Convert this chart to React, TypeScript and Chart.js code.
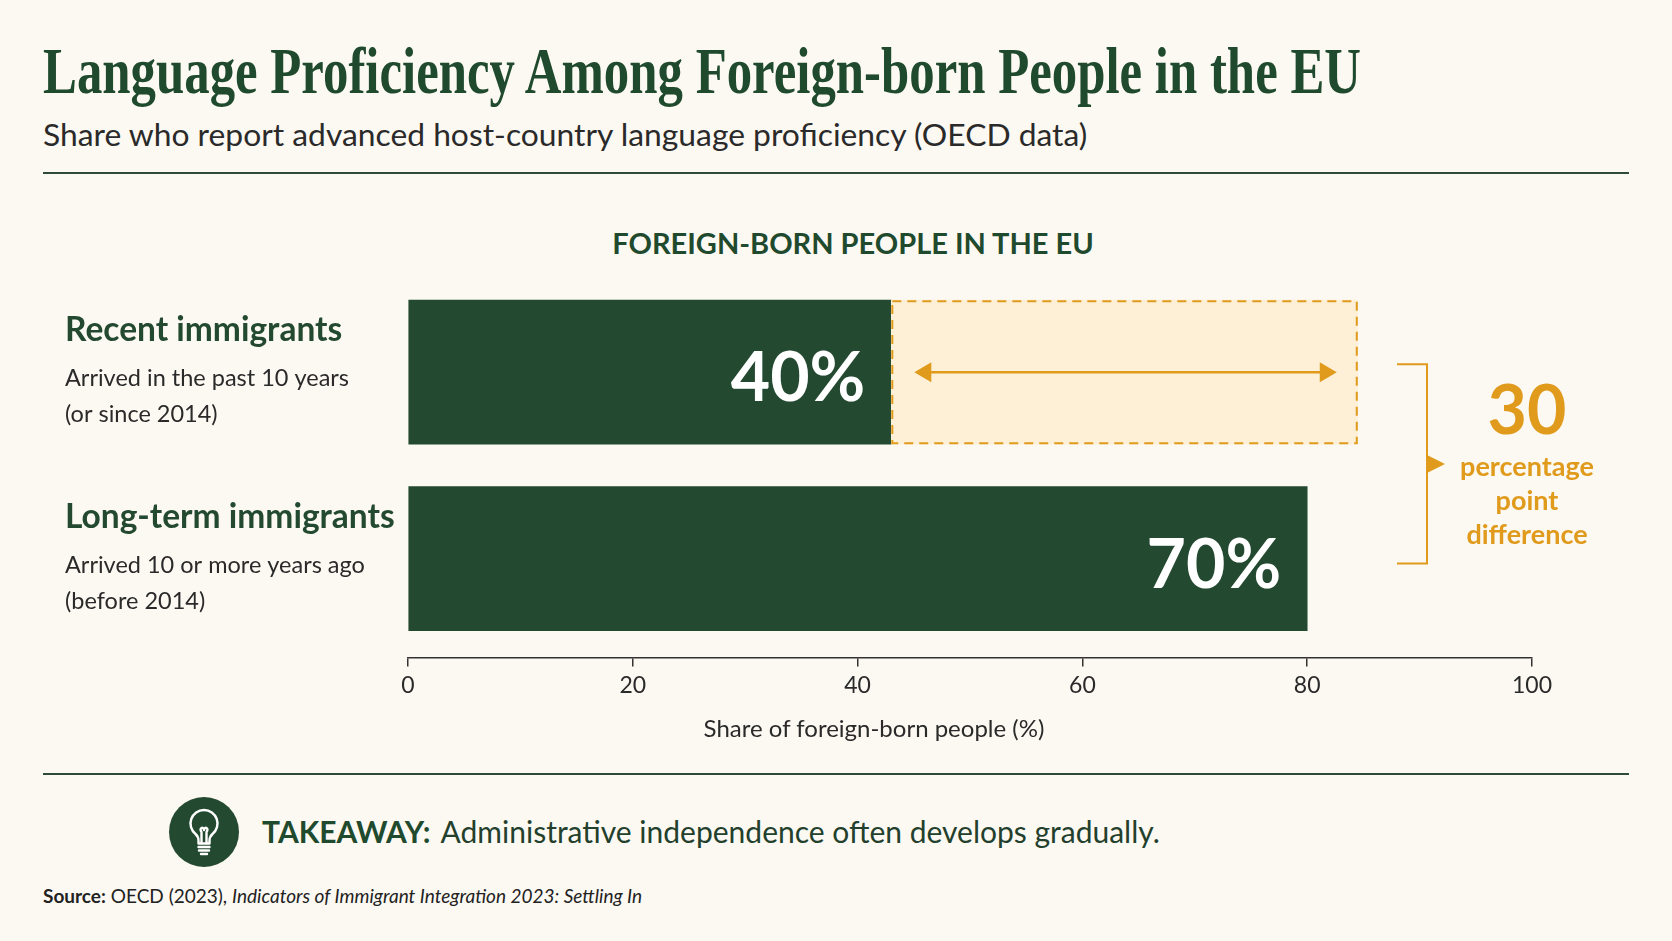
import { useEffect, useRef } from "react";
import { Chart, registerables, type ChartConfiguration, type Plugin } from "chart.js";

Chart.register(...registerables);

// rows, top to bottom
const categories = ["Recent immigrants", "Long-term immigrants"];
const categoryNotes = [
  ["Arrived in the past 10 years", "(or since 2014)"],
  ["Arrived 10 or more years ago", "(before 2014)"],
];
// share printed on each bar (%)
const reportedShares = [40, 70];
// where each bar ends against the 0–100 axis in the picture
const barEnds = [43, 80];
// dashed "gap" band on the first row (axis units)
const gapBand = [43, 84.5];
const xTicks = [0, 20, 40, 60, 80, 100];
const gapLabelLines = ["percentage", "point", "difference"];

const GREEN = "#234a30";
const ORANGE = "#e09a1c";
const GAP_FILL = "#fdf0d6";
const BG = "#fcf9f2";
const TEXT = "#2a2a2a";
const SANS = "Lato, 'Open Sans', sans-serif";

const rowLabels: Plugin<"bar"> = {
  id: "rowLabels",
  afterDraw(chart) {
    const { ctx } = chart;
    const y = chart.scales.y;
    ctx.save();
    ctx.textAlign = "left";
    ctx.textBaseline = "alphabetic";
    categories.forEach((name, i) => {
      const cy = y.getPixelForValue(i);
      ctx.fillStyle = GREEN;
      ctx.font = `700 33.5px ${SANS}`;
      ctx.fillText(name, 65, cy - 31);
      ctx.fillStyle = TEXT;
      ctx.font = `400 23.5px ${SANS}`;
      ctx.fillText(categoryNotes[i][0], 65, cy + 14);
      ctx.fillText(categoryNotes[i][1], 65, cy + 50);
    });
    ctx.restore();
  },
};

const barAnnotations: Plugin<"bar"> = {
  id: "barAnnotations",
  afterDatasetsDraw(chart) {
    const { ctx, chartArea } = chart;
    const gapEl = chart.getDatasetMeta(0).data[0] as any;
    const bars = chart.getDatasetMeta(1).data as any[];

    ctx.save();

    // dashed outline of the gap band
    const g = gapEl.getProps(["x", "y", "base", "height"], true);
    const gTop = g.y - g.height / 2;
    ctx.strokeStyle = ORANGE;
    ctx.lineWidth = 2;
    ctx.setLineDash([9, 6]);
    ctx.strokeRect(g.base + 1, gTop + 1, g.x - g.base - 2, g.height - 2);
    ctx.setLineDash([]);

    // double arrow inside the band
    const ax0 = g.base + 23;
    const ax1 = g.x - 21;
    ctx.lineWidth = 2.5;
    ctx.beginPath();
    ctx.moveTo(ax0 + 10, g.y);
    ctx.lineTo(ax1 - 10, g.y);
    ctx.stroke();
    ctx.fillStyle = ORANGE;
    ctx.beginPath();
    ctx.moveTo(ax0, g.y);
    ctx.lineTo(ax0 + 17, g.y - 10);
    ctx.lineTo(ax0 + 17, g.y + 10);
    ctx.closePath();
    ctx.fill();
    ctx.beginPath();
    ctx.moveTo(ax1, g.y);
    ctx.lineTo(ax1 - 17, g.y - 10);
    ctx.lineTo(ax1 - 17, g.y + 10);
    ctx.closePath();
    ctx.fill();

    // value labels inside the bars
    ctx.fillStyle = "#ffffff";
    ctx.font = `700 68px ${SANS}`;
    ctx.textAlign = "right";
    ctx.textBaseline = "alphabetic";
    bars.forEach((el, i) => {
      const p = el.getProps(["x", "y"], true);
      ctx.fillText(`${reportedShares[i]}%`, p.x - 26, p.y + 29);
    });

    // bracket joining the two rows
    const top = bars[0].getProps(["y"], true).y - 8;
    const bottom = bars[1].getProps(["y"], true).y + 5;
    const bx = chartArea.right - 105;
    const mid = (top + bottom) / 2;
    ctx.strokeStyle = ORANGE;
    ctx.fillStyle = ORANGE;
    ctx.lineWidth = 2;
    ctx.beginPath();
    ctx.moveTo(bx - 30, top);
    ctx.lineTo(bx, top);
    ctx.lineTo(bx, bottom);
    ctx.lineTo(bx - 30, bottom);
    ctx.stroke();
    ctx.beginPath();
    ctx.moveTo(bx, mid - 9);
    ctx.lineTo(bx + 18, mid);
    ctx.lineTo(bx, mid + 9);
    ctx.closePath();
    ctx.fill();

    // difference callout
    const tx = chartArea.right - 5;
    ctx.textAlign = "center";
    ctx.font = `700 68px ${SANS}`;
    ctx.fillText(String(reportedShares[1] - reportedShares[0]), tx, mid - 30);
    ctx.font = `700 27px ${SANS}`;
    gapLabelLines.forEach((line, i) => {
      ctx.fillText(line, tx, mid + 12 + i * 34);
    });

    ctx.restore();
  },
};

function BarChart() {
  const canvasRef = useRef<HTMLCanvasElement>(null);
  const chartRef = useRef<Chart<"bar"> | null>(null);

  useEffect(() => {
    const canvas = canvasRef.current;
    if (!canvas) {
      return;
    }
    if (chartRef.current) {
      chartRef.current.destroy();
    }

    const config: ChartConfiguration<"bar", any[], string> = {
      type: "bar",
      data: {
        datasets: [
          {
            label: "Gap",
            data: [{ x: gapBand, y: 0 }],
            backgroundColor: GAP_FILL,
            borderWidth: 0,
            barThickness: 144,
            grouped: false,
          },
          {
            label: "Share",
            data: barEnds.map((v, i) => ({ x: v, y: i })),
            backgroundColor: GREEN,
            borderWidth: 0,
            barThickness: 144,
            grouped: false,
          },
        ],
      },
      options: {
        indexAxis: "y",
        animation: false,
        responsive: true,
        maintainAspectRatio: false,
        layout: {
          padding: { left: 408, right: 140, top: 19, bottom: 56 },
        },
        plugins: {
          legend: { display: false },
          tooltip: { enabled: false },
        },
        scales: {
          x: {
            type: "linear",
            min: xTicks[0],
            max: xTicks[xTicks.length - 1],
            afterBuildTicks: (scale) => {
              scale.ticks = xTicks.map((value) => ({ value }));
            },
            grid: {
              drawOnChartArea: false,
              drawTicks: true,
              tickLength: 9,
              color: "#333333",
              lineWidth: 1.5,
            },
            border: { display: true, color: "#333333", width: 1.5 },
            ticks: {
              color: TEXT,
              padding: 5,
              font: { family: SANS, size: 23 },
            },
          },
          y: {
            type: "linear",
            min: -0.5,
            max: 1.53,
            reverse: true,
            offset: false,
            display: false,
          },
        },
      },
      plugins: [rowLabels, barAnnotations],
    };

    chartRef.current = new Chart(canvas, config);

    return () => {
      chartRef.current?.destroy();
      chartRef.current = null;
    };
  }, []);

  return (
    <div style={{ position: "absolute", left: 0, top: 260, width: 1672, height: 500 }}>
      <canvas ref={canvasRef} />
    </div>
  );
}

function Bulb() {
  return (
    <svg width="70" height="70" viewBox="0 0 70 70" style={{ position: "absolute", left: 169, top: 797 }}>
      <circle cx="35" cy="35" r="35" fill={GREEN} />
      <g fill="none" stroke="#ffffff" strokeWidth="2.4" strokeLinecap="round" strokeLinejoin="round">
        <path d="M35 13 a13.5 13.5 0 0 1 8.5 24 c-2 1.8 -3 3.8 -3 6.5 v3 h-11 v-3 c0 -2.7 -1 -4.7 -3 -6.5 a13.5 13.5 0 0 1 8.5 -24 z" />
        <path d="M32.5 46 v-11 M37.5 46 v-11 M32.5 35 c-3 -4 2 -6 2.5 -2 c0.5 -4 5.5 -2 2.5 2" />
        <path d="M29.5 50 h11 M30 53.5 h10 M32 57 h6" />
      </g>
    </svg>
  );
}

export default function App() {
  useEffect(() => {
    document.body.style.margin = "0";
    document.body.style.background = BG;
  }, []);

  const rule = (top: number) => (
    <div style={{ position: "absolute", left: 43, top, width: 1586, height: 2, background: "#2e4a3a" }} />
  );

  return (
    <div style={{ position: "relative", width: 1672, height: 941, background: BG, overflow: "hidden", fontFamily: SANS }}>
      <div
        style={{
          position: "absolute",
          left: 43,
          top: 38,
          fontFamily: "'Liberation Serif', 'DejaVu Serif', serif",
          fontWeight: 700,
          fontSize: 66,
          lineHeight: "66px",
          color: "#1f4a2e",
          whiteSpace: "nowrap",
          transform: "scaleX(0.77)",
          transformOrigin: "left top",
        }}
      >
        Language Proficiency Among Foreign-born People in the EU
      </div>
      <div style={{ position: "absolute", left: 43, top: 118, fontSize: 31.8, lineHeight: "32px", color: TEXT, whiteSpace: "nowrap" }}>
        Share who report advanced host-country language proficiency (OECD data)
      </div>
      {rule(172)}
      <div
        style={{
          position: "absolute",
          left: 553,
          width: 600,
          top: 228,
          textAlign: "center",
          fontSize: 29,
          lineHeight: "29px",
          fontWeight: 700,
          color: "#1f4a2e",
          whiteSpace: "nowrap",
        }}
      >
        FOREIGN-BORN PEOPLE IN THE EU
      </div>
      <BarChart />
      <div
        style={{
          position: "absolute",
          left: 574,
          width: 600,
          top: 716,
          textAlign: "center",
          fontSize: 24,
          lineHeight: "24px",
          color: TEXT,
          whiteSpace: "nowrap",
        }}
      >
        Share of foreign-born people (%)
      </div>
      {rule(773)}
      <Bulb />
      <div style={{ position: "absolute", left: 262, top: 816, fontSize: 30, lineHeight: "30px", color: "#23402d", whiteSpace: "nowrap" }}>
        <span style={{ fontWeight: 700, color: "#1f4a2e" }}>TAKEAWAY:</span>
        <span style={{ marginLeft: 10 }}>Administrative independence often develops gradually.</span>
      </div>
      <div style={{ position: "absolute", left: 43, top: 886, fontSize: 19, lineHeight: "19px", color: "#222222", whiteSpace: "nowrap" }}>
        <span style={{ fontWeight: 700 }}>Source:</span> OECD (2023), <i>Indicators of Immigrant Integration 2023: Settling In</i>
      </div>
    </div>
  );
}
